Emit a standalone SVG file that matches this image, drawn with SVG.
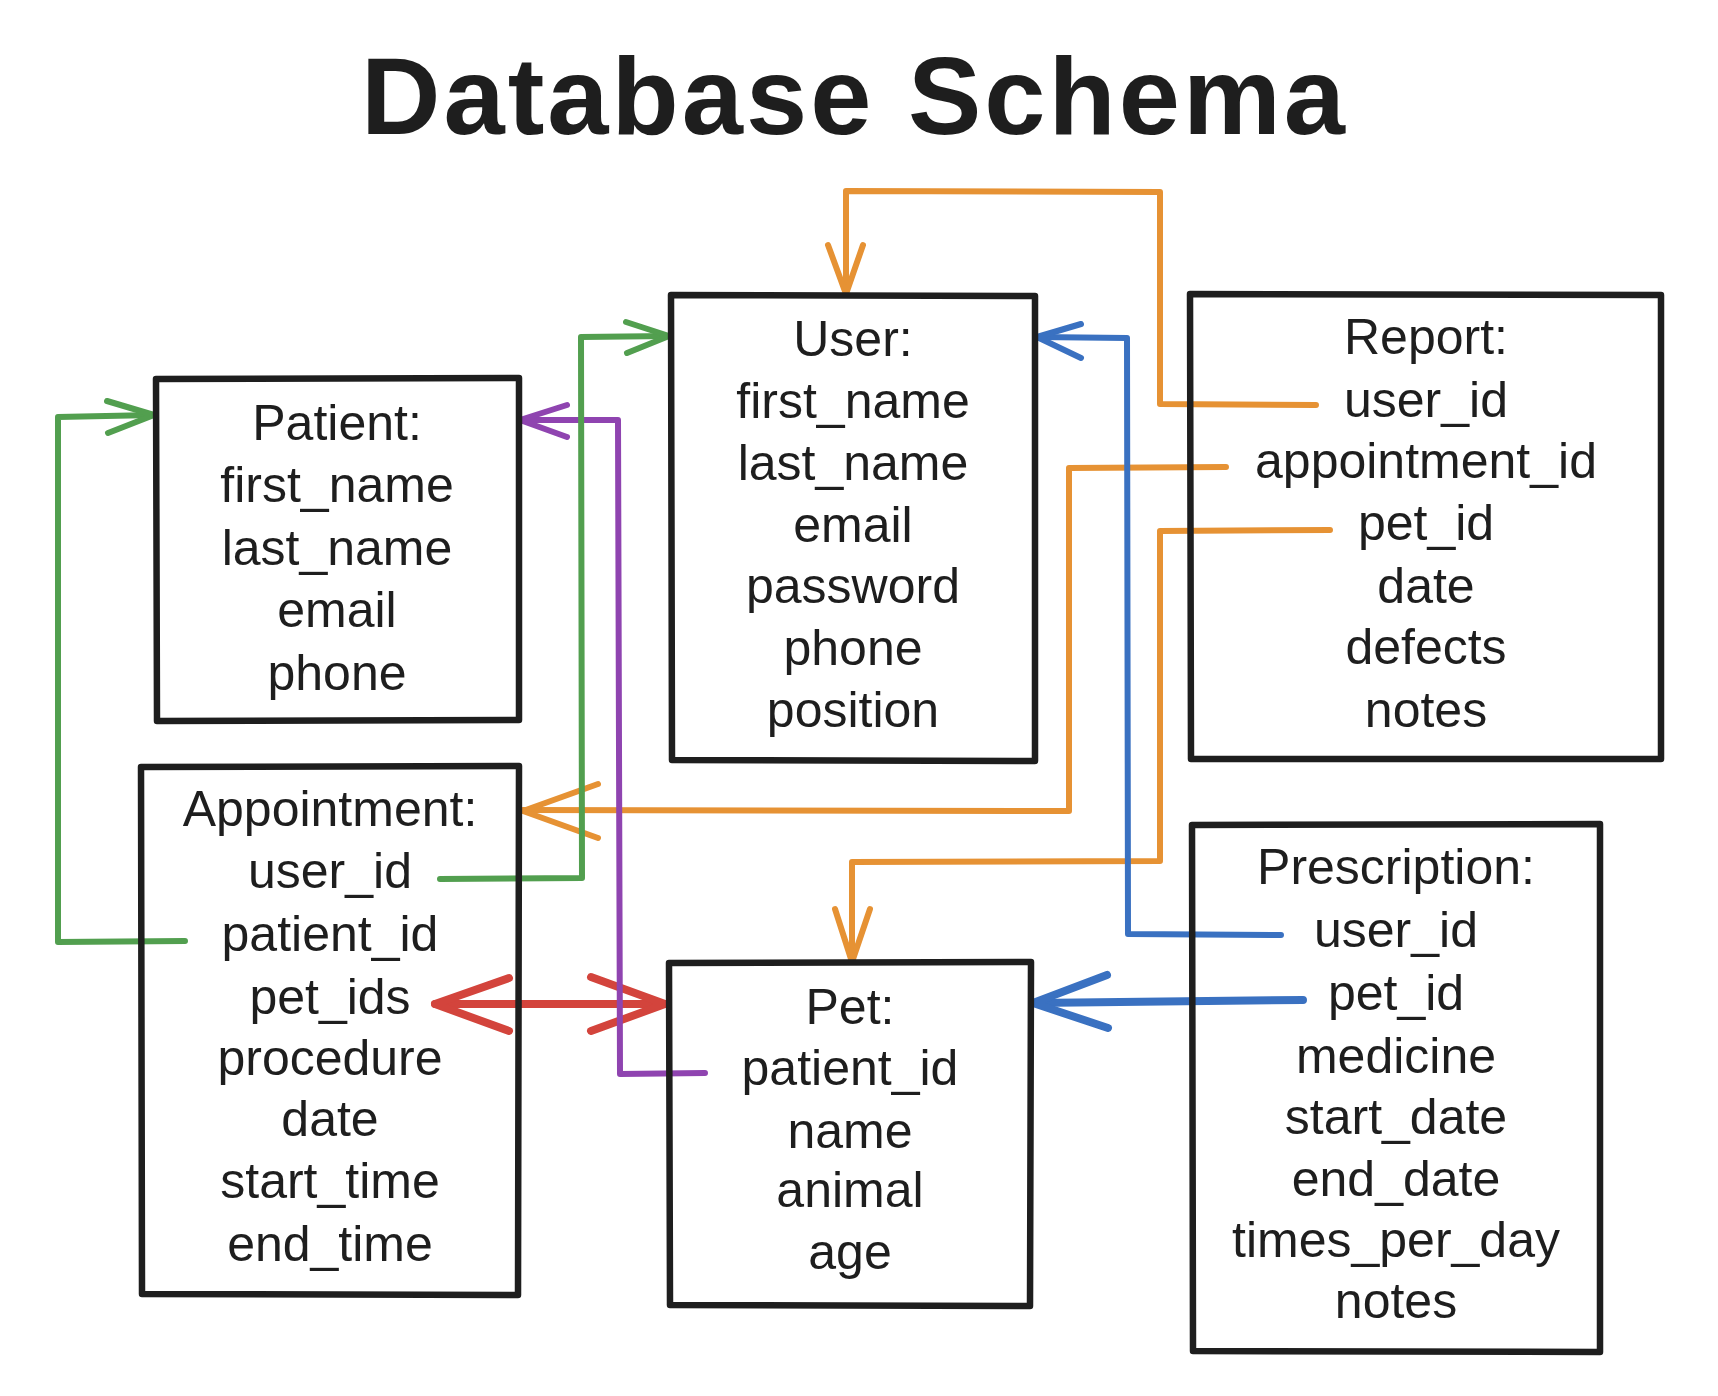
<svg xmlns="http://www.w3.org/2000/svg" width="1718" height="1396" viewBox="0 0 1718 1396">
<style>
  .bg { fill: #ffffff; }
  .title { font-family: "Liberation Sans", Arial, sans-serif; font-size: 110px; font-weight: bold; fill: #1e1e1e; }
  .box { fill: none; stroke: #1e1e1e; stroke-width: 6.5; stroke-linejoin: round; stroke-linecap: round; }
  .txt { font-family: "Liberation Sans", Arial, sans-serif; font-size: 50px; fill: #1e1e1e; text-anchor: middle; }
  .c { fill: none; stroke-width: 6; stroke-linecap: round; stroke-linejoin: round; }
  .orange { stroke: #e69234; }
  .blue { stroke: #3a71c1; }
  .green { stroke: #529f4f; }
  .purple { stroke: #8f44b0; }
  .red { stroke: #d3443c; }
  .thick { stroke-width: 8; }
</style>
<rect class="bg" x="0" y="0" width="1718" height="1396"/>
<text class="title" x="853" y="134" text-anchor="middle" textLength="984" lengthAdjust="spacing">Database Schema</text>

<g id="connectors">
  <g id="report-user">
    <path class="c orange" d="M1316,405 L1160,404 L1160,192 L846,191 L846,292"/>
    <path class="c orange" d="M828,245 L846,294 L863,245"/>
  </g>
  <g id="report-appointment">
    <path class="c orange" d="M1226,467 L1069,468 L1069,811 L523,810"/>
    <path class="c orange" d="M598,784 L523,811 L598,838"/>
  </g>
  <g id="report-pet">
    <path class="c orange" d="M1330,530 L1160,531 L1160,861 L852,862 L852,960"/>
    <path class="c orange" d="M835,909 L852,962 L870,909"/>
  </g>
  <g id="appointment-pet">
    <path class="c red thick" d="M435,1004 L665,1004"/>
    <path class="c red thick" d="M509,978 L435,1004 L509,1031"/>
    <path class="c red thick" d="M591,977 L665,1004 L591,1031"/>
  </g>
  <g id="pet-patient">
    <path class="c purple" d="M705,1073 L620,1074 L618,420 L520,420"/>
    <path class="c purple" d="M567,405 L520,420 L567,437"/>
  </g>
  <g id="appointment-user">
    <path class="c green" d="M440,879 L582,878 L581,337 L669,336"/>
    <path class="c green" d="M626,322 L669,336 L627,353"/>
  </g>
  <g id="appointment-patient">
    <path class="c green" d="M185,941 L58,942 L58,417 L154,415"/>
    <path class="c green" d="M107,401 L154,415 L108,433"/>
  </g>
  <g id="prescription-user">
    <path class="c blue" d="M1281,935 L1128,934 L1127,338 L1037,337"/>
    <path class="c blue" d="M1081,324 L1037,337 L1081,358"/>
  </g>
  <g id="prescription-pet">
    <path class="c blue thick" d="M1303,1000 L1033,1003"/>
    <path class="c blue thick" d="M1107,975 L1033,1003 L1108,1028"/>
  </g>
</g>

<g id="patient">
  <path class="box" d="M156,379 L519,378 L519,720 L157,721 Z"/>
  <text class="txt" x="337" y="440">Patient:</text>
  <text class="txt" x="337" y="502">first_name</text>
  <text class="txt" x="337" y="565">last_name</text>
  <text class="txt" x="337" y="627">email</text>
  <text class="txt" x="337" y="690">phone</text>
</g>

<g id="user">
  <path class="box" d="M671,295 L1035,296 L1035,761 L672,760 Z"/>
  <text class="txt" x="853" y="356">User:</text>
  <text class="txt" x="853" y="418">first_name</text>
  <text class="txt" x="853" y="480">last_name</text>
  <text class="txt" x="853" y="542">email</text>
  <text class="txt" x="853" y="603">password</text>
  <text class="txt" x="853" y="665">phone</text>
  <text class="txt" x="853" y="727">position</text>
</g>

<g id="report">
  <path class="box" d="M1190,294 L1661,295 L1661,759 L1191,759 Z"/>
  <text class="txt" x="1426" y="354">Report:</text>
  <text class="txt" x="1426" y="417">user_id</text>
  <text class="txt" x="1426" y="478">appointment_id</text>
  <text class="txt" x="1426" y="540">pet_id</text>
  <text class="txt" x="1426" y="603">date</text>
  <text class="txt" x="1426" y="664">defects</text>
  <text class="txt" x="1426" y="727">notes</text>
</g>

<g id="appointment">
  <path class="box" d="M141,767 L519,766 L518,1295 L142,1294 Z"/>
  <text class="txt" x="330" y="826">Appointment:</text>
  <text class="txt" x="330" y="888">user_id</text>
  <text class="txt" x="330" y="951">patient_id</text>
  <text class="txt" x="330" y="1014">pet_ids</text>
  <text class="txt" x="330" y="1075">procedure</text>
  <text class="txt" x="330" y="1136">date</text>
  <text class="txt" x="330" y="1198">start_time</text>
  <text class="txt" x="330" y="1261">end_time</text>
</g>

<g id="pet">
  <path class="box" d="M669,963 L1031,962 L1030,1306 L670,1305 Z"/>
  <text class="txt" x="850" y="1024">Pet:</text>
  <text class="txt" x="850" y="1085">patient_id</text>
  <text class="txt" x="850" y="1148">name</text>
  <text class="txt" x="850" y="1207">animal</text>
  <text class="txt" x="850" y="1269">age</text>
</g>

<g id="prescription">
  <path class="box" d="M1192,825 L1600,824 L1600,1352 L1193,1351 Z"/>
  <text class="txt" x="1396" y="884">Prescription:</text>
  <text class="txt" x="1396" y="947">user_id</text>
  <text class="txt" x="1396" y="1010">pet_id</text>
  <text class="txt" x="1396" y="1073">medicine</text>
  <text class="txt" x="1396" y="1134">start_date</text>
  <text class="txt" x="1396" y="1196">end_date</text>
  <text class="txt" x="1396" y="1257">times_per_day</text>
  <text class="txt" x="1396" y="1318">notes</text>
</g>
</svg>
